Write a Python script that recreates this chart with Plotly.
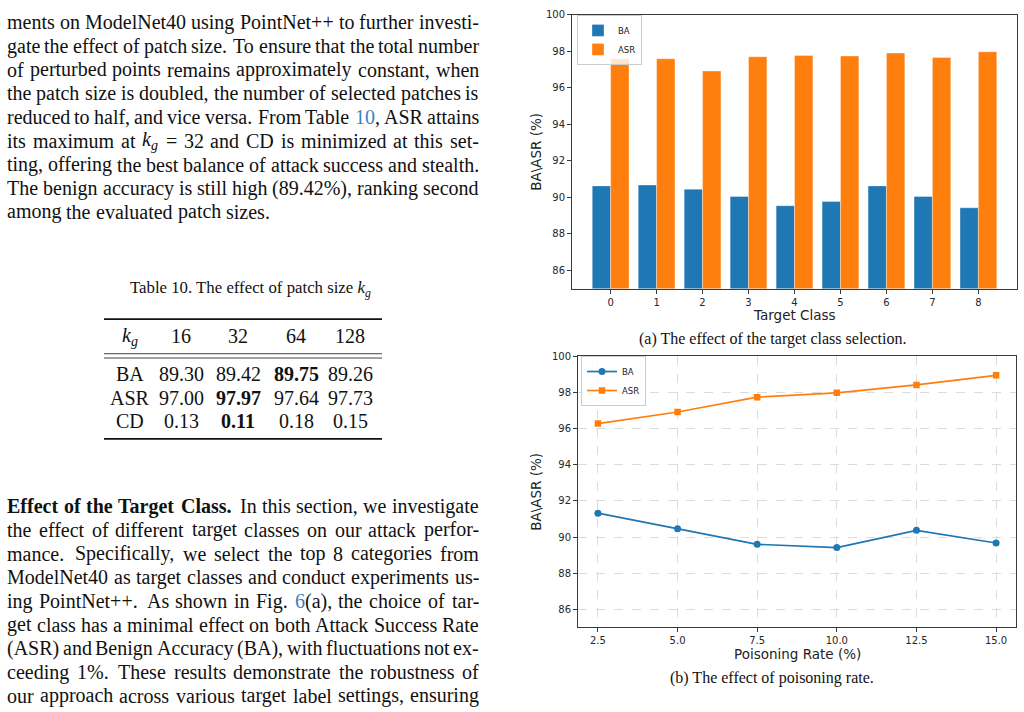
import re
import plotly.graph_objects as go

W, H = 1024, 712


def fx(px):
    return px / W


def fy(py):
    return 1 - py / H


# ---------------- data ----------------
target_classes = [0, 1, 2, 3, 4, 5, 6, 7, 8]
ba_target = [90.63, 90.68, 90.45, 90.05, 89.54, 89.78, 90.63, 90.05, 89.43]
asr_target = [97.60, 97.60, 96.93, 97.71, 97.78, 97.75, 97.91, 97.67, 97.98]

poison_rates = [2.5, 5.0, 7.5, 10.0, 12.5, 15.0]
poison_ticktext = ["2.5", "5.0", "7.5", "10.0", "12.5", "15.0"]
ba_poison = [91.32, 90.46, 89.60, 89.42, 90.37, 89.67]
asr_poison = [96.28, 96.92, 97.74, 97.98, 98.42, 98.95]

y_ticks = [86, 88, 90, 92, 94, 96, 98, 100]

patch_sizes = ["16", "32", "64", "128"]
ba_patch = ["89.30", "89.42", "<b>89.75</b>", "89.26"]
asr_patch = ["97.00", "<b>97.97</b>", "97.64", "97.73"]
cd_patch = ["0.13", "<b>0.11</b>", "0.18", "0.15"]
row_labels = ["BA", "ASR", "CD"]

KG = "<i>k</i><sub><i>g</i></sub>"
LINK = "<span style='color:#3b82c4'>{}</span>"

para1_lines = [
    "ments on ModelNet40 using PointNet++ to further investi-",
    "gate the effect of patch size.  To ensure that the total number",
    "of perturbed points remains approximately constant, when",
    "the patch size is doubled, the number of selected patches is",
    "reduced to half, and vice versa.  From Table " + LINK.format("10") + ", ASR attains",
    "its maximum at " + KG + " = 32 and CD is minimized at this set-",
    "ting, offering the best balance of attack success and stealth.",
    "The benign accuracy is still high (89.42%), ranking second",
    "among the evaluated patch sizes.",
]
para2_lines = [
    "<b>Effect</b> <b>of</b> <b>the</b> <b>Target</b> <b>Class.</b>  In this section, we investigate",
    "the effect of different target classes on our attack perfor-",
    "mance.  Specifically, we select the top 8 categories from",
    "ModelNet40 as target classes and conduct experiments us-",
    "ing PointNet++.  As shown in Fig. " + LINK.format("6") + "(a), the choice of tar-",
    "get class has a minimal effect on both Attack Success Rate",
    "(ASR) and Benign Accuracy (BA), with fluctuations not ex-",
    "ceeding 1%.  These results demonstrate the robustness of",
    "our approach across various target label settings, ensuring",
]

BLUE = "#1f77b4"
ORANGE = "#ff7f0e"
TICKFONT = dict(family="DejaVu Sans", size=10, color="#262626")
SERIF = "Liberation Serif"

fig = go.Figure()

# ---------------- chart (a): bars ----------------
fig.add_trace(go.Bar(x=target_classes, y=ba_target, name="BA",
                     marker=dict(color=BLUE, line=dict(width=0.6, color="rgba(255,255,255,0.6)")),
                     xaxis="x", yaxis="y", legend="legend"))
fig.add_trace(go.Bar(x=target_classes, y=asr_target, name="ASR",
                     marker=dict(color=ORANGE, line=dict(width=0.6, color="rgba(255,255,255,0.6)")),
                     xaxis="x", yaxis="y", legend="legend"))

# ---------------- chart (b): lines ----------------
fig.add_trace(go.Scatter(x=poison_rates, y=ba_poison, name="BA", mode="lines+markers",
                         line=dict(color=BLUE, width=1.7), marker=dict(symbol="circle", size=7, color=BLUE),
                         xaxis="x2", yaxis="y2", legend="legend2"))
fig.add_trace(go.Scatter(x=poison_rates, y=asr_poison, name="ASR", mode="lines+markers",
                         line=dict(color=ORANGE, width=1.7), marker=dict(symbol="square", size=6.5, color=ORANGE),
                         xaxis="x2", yaxis="y2", legend="legend2"))

axis_common = dict(showline=True, mirror=True, linecolor="#3a3a3a", linewidth=1, ticks="outside",
                   ticklen=4, tickwidth=1, tickcolor="#3a3a3a", tickfont=TICKFONT, zeroline=False)

LEGFONT = dict(family="DejaVu Sans", size=8.5, color="#222")

fig.update_layout(
    width=W, height=H, margin=dict(l=0, r=0, t=0, b=0),
    paper_bgcolor="white", plot_bgcolor="white",
    barmode="group", bargap=0.2, bargroupgap=0,
    xaxis=dict(domain=[fx(572), fx(1017)], anchor="y", range=[-0.84, 8.84], tickvals=target_classes,
               showgrid=False, **axis_common),
    yaxis=dict(domain=[fy(285), fy(9)], anchor="x", range=[85, 100], tickvals=y_ticks,
               showgrid=False, **axis_common),
    xaxis2=dict(domain=[fx(578), fx(1016)], anchor="y2", range=[1.875, 15.625], tickvals=poison_rates,
                ticktext=poison_ticktext, showgrid=True, gridcolor="#dcdcdc", griddash="dash", gridwidth=0.8,
                **axis_common),
    yaxis2=dict(domain=[fy(626.7), fy(353.3)], anchor="x2", range=[85, 100], tickvals=y_ticks,
                showgrid=True, gridcolor="#dcdcdc", griddash="dash", gridwidth=0.8, **axis_common),
    legend=dict(x=fx(577), y=fy(9), xanchor="left", yanchor="top", bgcolor="rgba(255,255,255,0.8)",
                bordercolor="#cccccc", borderwidth=1, font=LEGFONT, tracegroupgap=0, itemwidth=30),
    legend2=dict(x=fx(581), y=fy(353), xanchor="left", yanchor="top", bgcolor="rgba(255,255,255,0.8)",
                 bordercolor="#cccccc", borderwidth=1, font=LEGFONT, tracegroupgap=0, itemwidth=30),
    showlegend=True,
)

ann = []


def add_text(text, px, py, size, family=SERIF, xanchor="center", yanchor="middle", angle=0, color="#111"):
    ann.append(dict(text=text, x=fx(px), y=fy(py), xref="paper", yref="paper", showarrow=False,
                    xanchor=xanchor, yanchor=yanchor, textangle=angle, borderpad=0, borderwidth=0,
                    font=dict(family=family, size=size, color=color)))


# axis titles
add_text("BA\\ASR (%)", 536, 147, 13.5, family="DejaVu Sans", angle=-90, color="#222")
add_text("Target Class", 794, 312, 13.5, family="DejaVu Sans", color="#222")
add_text("BA\\ASR (%)", 536, 490, 13.5, family="DejaVu Sans", angle=-90, color="#222")
add_text("Poisoning Rate (%)", 797, 654, 13.5, family="DejaVu Sans", color="#222")

# subfigure captions
add_text("(a) The effect of the target class selection.", 772, 336, 16)
add_text("(b) The effect of poisoning rate.", 772, 678, 16)

# ---------------- justified body text (word-level placement) ----------------
# approximate Times advance widths (1/1000 em)
REG = dict(zip(" !\"#$%&'()*+,-./0123456789:;<=>?@", [250, 333, 408, 500, 500, 833, 778, 333, 333, 333, 500, 564,
                                                      250, 333, 250, 278] + [500] * 10 + [278, 278, 564, 564, 564, 444, 921]))
REG.update(dict(zip("ABCDEFGHIJKLMNOPQRSTUVWXYZ", [722, 667, 667, 722, 611, 556, 722, 722, 333, 389, 722, 611, 889,
                                                  722, 722, 556, 722, 667, 556, 611, 722, 722, 944, 722, 722, 611])))
REG.update(dict(zip("abcdefghijklmnopqrstuvwxyz", [444, 500, 444, 500, 444, 333, 500, 500, 278, 278, 500, 278, 778,
                                                  500, 500, 500, 500, 333, 389, 278, 500, 500, 722, 500, 500, 444])))
BOLD = dict(REG)
BOLD.update(dict(zip("ABCDEFGHIJKLMNOPQRSTUVWXYZ", [722, 667, 722, 722, 667, 611, 778, 778, 389, 500, 778, 667, 944,
                                                   722, 778, 611, 778, 722, 556, 667, 722, 722, 1000, 722, 722, 667])))
BOLD.update(dict(zip("abcdefghijklmnopqrstuvwxyz", [500, 556, 444, 556, 444, 333, 500, 556, 278, 333, 556, 278, 833,
                                                   556, 500, 556, 556, 444, 389, 333, 556, 500, 722, 500, 500, 444])))


def tokenize(line):
    toks, cur, inside, gaps = [], "", False, []
    i = 0
    while i < len(line):
        ch = line[i]
        if ch == "<":
            inside = True
        if ch == ">":
            inside = False
        if ch == " " and not inside:
            n = 1
            while i + n < len(line) and line[i + n] == " ":
                n += 1
            toks.append(cur)
            gaps.append(1.0 if n == 1 else 1.35)
            cur = ""
            i += n
            continue
        cur += ch
        i += 1
    toks.append(cur)
    return toks, gaps


def tok_width(tok, size):
    bold = "<b>" in tok
    table = BOLD if bold else REG
    w = 0.0
    for part in re.split(r"(<sub>.*?</sub>)", tok):
        scale = 0.7 if part.startswith("<sub>") else 1.0
        plain = re.sub(r"<[^>]+>", "", part)
        w += sum(table.get(c, 500) for c in plain) * scale
    return w / 1000 * size


LEFT, RIGHT = 7, 479
BODY = 20.0


def add_paragraph(lines, y0, justify_last):
    for k, line in enumerate(lines):
        py = y0 + k * 23.9
        toks, gaps = tokenize(line)
        widths = [tok_width(t, BODY) for t in toks]
        last = (k == len(lines) - 1) and not justify_last
        if last:
            unit = 0.25 * BODY
        else:
            unit = (RIGHT - LEFT - sum(widths)) / sum(gaps)
        x = LEFT
        for j, t in enumerate(toks):
            if j == len(toks) - 1 and not last:
                add_text(t, RIGHT, py, BODY, xanchor="right")
            else:
                add_text(t, x, py, BODY, xanchor="left")
            if j < len(gaps):
                x += widths[j] + unit * gaps[j]


add_paragraph(para1_lines, 16.5, False)
add_paragraph(para2_lines, 504.5, True)

# ---------------- table ----------------
TAB = 20
add_text("Table 10. The effect of patch size " + KG, 250, 285, 16.8)
col_x = [130, 181, 238, 296, 350]
add_text(KG, col_x[0], 333, TAB)
for j, p in enumerate(patch_sizes):
    add_text(p, col_x[j + 1], 333, TAB)
for r, (lab, vals) in enumerate(zip(row_labels, [ba_patch, asr_patch, cd_patch])):
    py = 371.5 + r * 23.5
    add_text(lab, col_x[0], py, TAB)
    for j, v in enumerate(vals):
        add_text(v, col_x[j + 1], py, TAB)

shapes = []


def hrule(py, width, color="#111"):
    shapes.append(dict(type="line", xref="paper", yref="paper", x0=fx(104), x1=fx(382),
                       y0=fy(py), y1=fy(py), line=dict(color=color, width=width)))


hrule(315.7, 1.8)
hrule(350.7, 1.0, "#444")
hrule(355.0, 1.0, "#444")
hrule(436.5, 1.8)

fig.update_layout(annotations=ann, shapes=shapes)

fig.write_html("out.html")
